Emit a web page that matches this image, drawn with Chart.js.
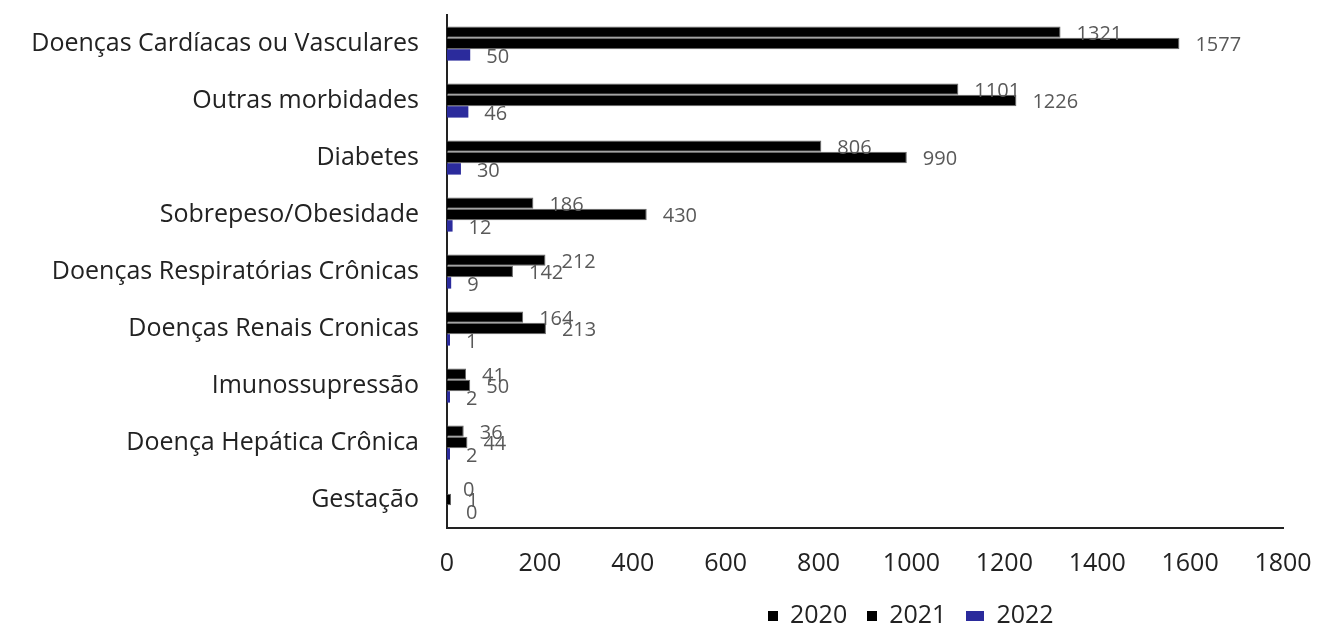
<!DOCTYPE html>
<html>
<head>
<meta charset="utf-8">
<script src="https://cdn.jsdelivr.net/npm/chart.js@4"></script>
<style>
  body { margin: 0; background: #fff; }
  #wrap { position: relative; width: 1342px; height: 631px; }
  #legenda { position: absolute; top: 596px; left: 768px; line-height: 34px; font-family: 'Open Sans', sans-serif; font-size: 25px; color: #222; white-space: nowrap; }
  #legenda span.box { display: inline-block; height: 10px; margin-right: 12px; vertical-align: 2px; }
  #legenda span.item { margin-right: 20px; }
</style>
</head>
<body>
<div id="wrap">
  <canvas id="grafico" width="1342" height="631"></canvas>
  <div id="legenda"></div>
</div>
<script>
// categorias (de cima para baixo)
const categorias = ["Doenças Cardíacas ou Vasculares", "Outras morbidades", "Diabetes", "Sobrepeso/Obesidade",
  "Doenças Respiratórias Crônicas", "Doenças Renais Cronicas", "Imunossupressão", "Doença Hepática Crônica", "Gestação"];
const anos = ["2020", "2021", "2022"];
const valores2020 = [1321, 1101, 806, 186, 212, 164, 41, 36, 0];
const valores2021 = [1577, 1226, 990, 430, 142, 213, 50, 44, 1];
const valores2022 = [50, 46, 30, 12, 9, 1, 2, 2, 0];
const cores = ["#000000", "#000000", "#2b2b9c"];
const ticksX = [0, 200, 400, 600, 800, 1000, 1200, 1400, 1600, 1800];

const fonte = "'Open Sans', sans-serif";

// plugin para os rotulos dos valores
const rotulos = {
  id: 'rotulos',
  afterDatasetsDraw(chart) {
    const ctx = chart.ctx;
    ctx.save();
    ctx.font = "20px " + fonte;
    ctx.fillStyle = "#595959";
    ctx.textAlign = "left";
    ctx.textBaseline = "middle";
    chart.data.datasets.forEach((ds, i) => {
      const meta = chart.getDatasetMeta(i);
      meta.data.forEach((bar, j) => {
        ctx.fillText(String(ds.data[j]), bar.x + 16, bar.y + 2);
      });
    });
    ctx.restore();
  }
};

// valor zero nao desenha barra
const corSemZero = cor => c => (c.raw === 0 ? "rgba(0,0,0,0)" : cor);

const ctx = document.getElementById("grafico").getContext("2d");
const grafico = new Chart(ctx, {
  type: "bar",
  data: {
    labels: categorias,
    datasets: [
      { label: anos[0], data: valores2020, backgroundColor: cores[0], borderColor: "#666", borderWidth: 1 },
      { label: anos[1], data: valores2021, backgroundColor: cores[1], borderColor: "#666", borderWidth: 1, minBarLength: 4 },
      { label: anos[2], data: valores2022, backgroundColor: corSemZero(cores[2]), borderWidth: 0, minBarLength: 3 }
    ]
  },
  options: {
    indexAxis: "y",
    responsive: false,
    animation: false,
    layout: { padding: { top: 15, right: 59, left: 0, bottom: 0 } },
    datasets: { bar: { categoryPercentage: 0.6, barPercentage: 1 } },
    plugins: {
      legend: { display: false },
      tooltip: { enabled: false }
    },
    scales: {
      x: {
        min: 0, max: 1800,
        afterBuildTicks: s => { s.ticks = ticksX.map(v => ({ value: v })); },
        grid: { display: false, drawTicks: false },
        border: { display: true, color: "#222", width: 2 },
        ticks: { padding: 21, color: "#222", font: { family: fonte, size: 25 }, callback: v => String(v) },
        afterFit: s => { s.height = 103; }
      },
      y: {
        grid: { display: false, drawTicks: false },
        border: { display: true, color: "#222", width: 2 },
        ticks: { padding: 28, color: "#222", font: { family: fonte, size: 25 } },
        afterFit: s => { s.width = 447; s.paddingTop = 0; s.paddingBottom = 0; }
      }
    }
  },
  plugins: [rotulos]
});

// legenda em html
const largurasCaixa = [10, 10, 18];
document.getElementById("legenda").innerHTML = anos.map((a, i) =>
  `<span class="item"><span class="box" style="width:${largurasCaixa[i]}px;background:${cores[i]}"></span>${a}</span>`).join("");
</script>
</body>
</html>
